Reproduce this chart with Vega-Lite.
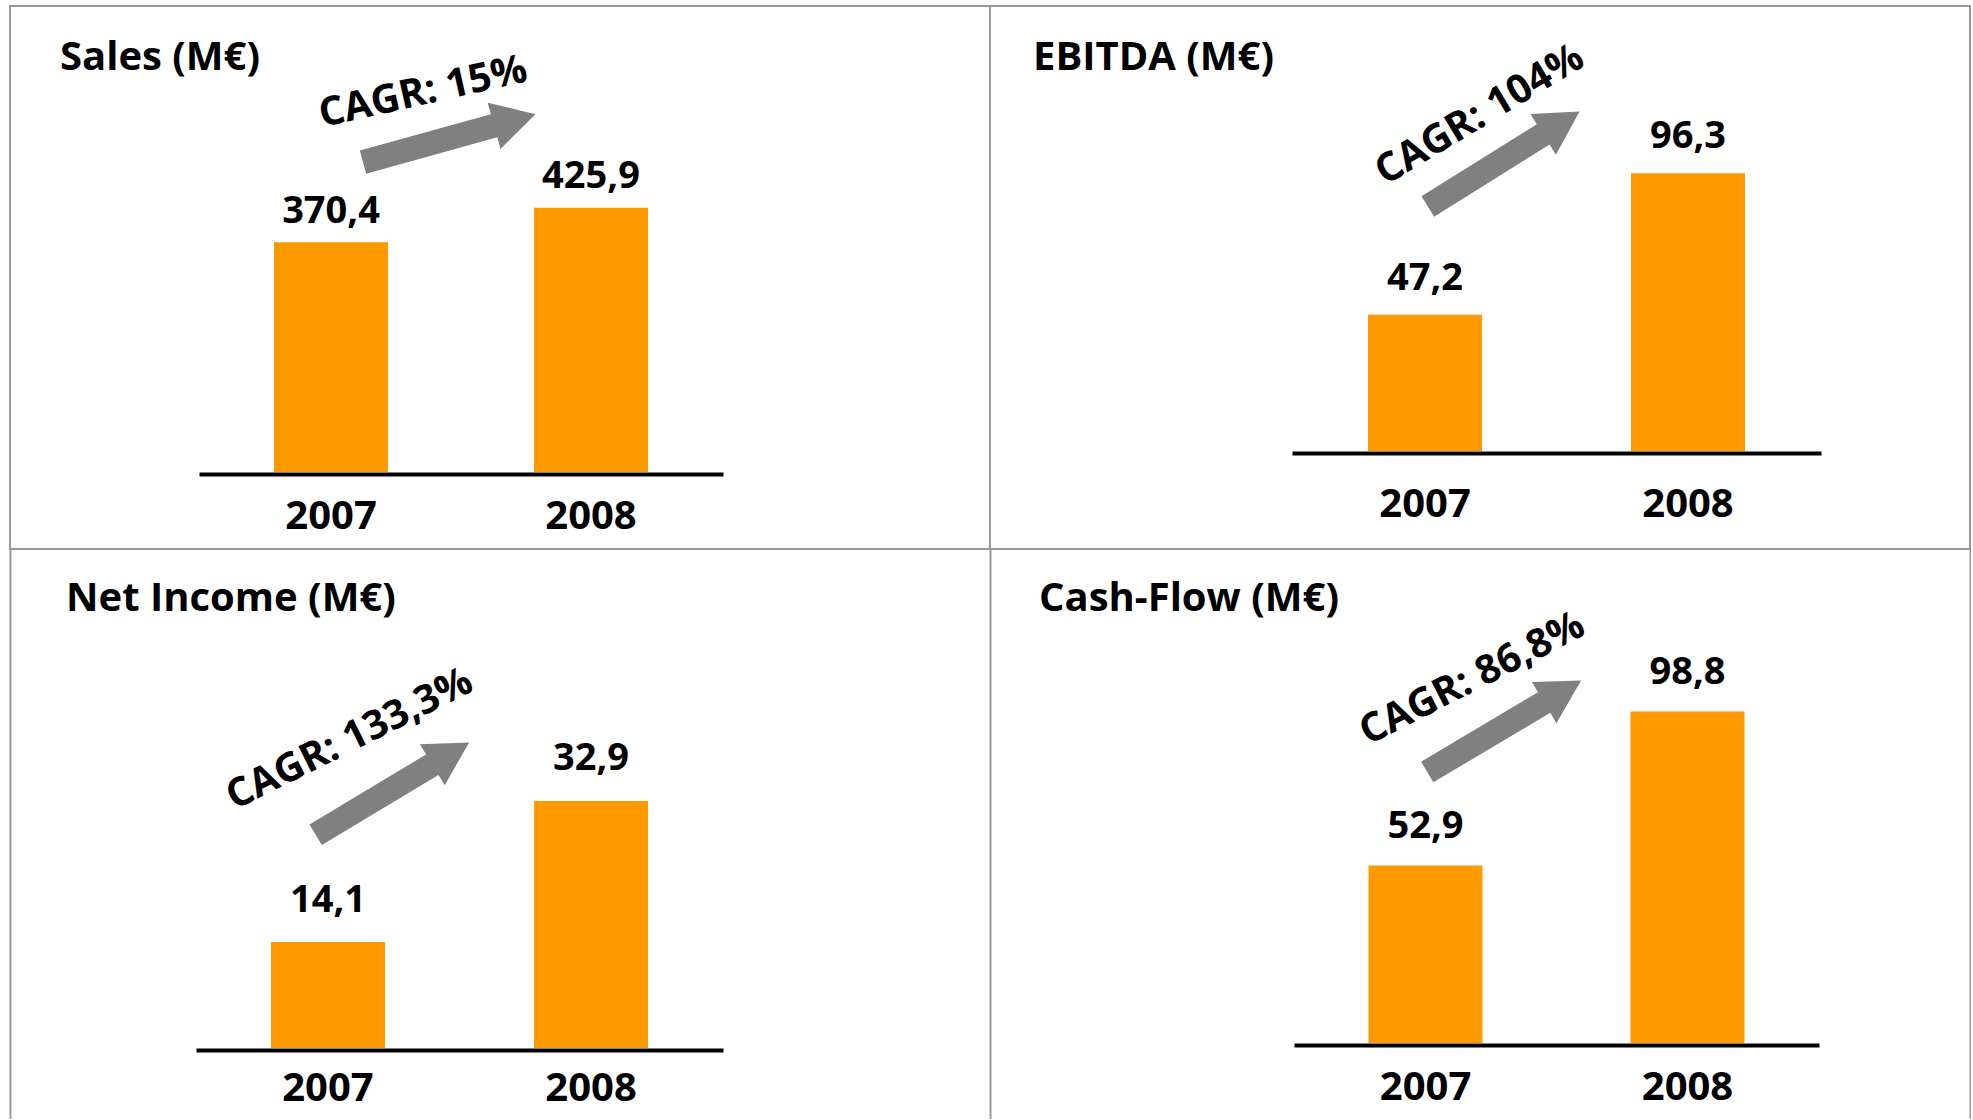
{
  "$schema": "https://vega.github.io/schema/vega-lite/v6.json",
  "background": "white",
  "padding": {"left": 9, "top": 5, "right": 0, "bottom": 0},
  "datasets": {
    "kpi": [
      {"metric": "Sales", "year": "2007", "value": 370.4},
      {"metric": "Sales", "year": "2008", "value": 425.9},
      {"metric": "EBITDA", "year": "2007", "value": 47.2},
      {"metric": "EBITDA", "year": "2008", "value": 96.3},
      {"metric": "Net Income", "year": "2007", "value": 14.1},
      {"metric": "Net Income", "year": "2008", "value": 32.9},
      {"metric": "Cash-Flow", "year": "2007", "value": 52.9},
      {"metric": "Cash-Flow", "year": "2008", "value": 98.8}
    ],
    "cagr": [
      {"metric": "Sales", "label": "CAGR: 15%"},
      {"metric": "EBITDA", "label": "CAGR: 104%"},
      {"metric": "Net Income", "label": "CAGR: 133,3%"},
      {"metric": "Cash-Flow", "label": "CAGR: 86,8%"}
    ]
  },
  "columns": 2,
  "spacing": 0,
  "bounds": "flush",
  "concat": [
    {
      "width": 980, "height": 543,
      "title": {"text": "Sales (M€)", "anchor": "start", "frame": "group", "orient": "top", "offset": -104, "dx": 50, "baseline": "alphabetic"},
      "layer": [
        {
          "data": {"name": "kpi"}, "transform": [{"filter": "datum.metric === 'Sales'"}],
          "mark": {"type": "bar", "color": "#FF9900"},
          "encoding": {
            "x": {"field": "year", "type": "ordinal", "scale": {"range": [189, 713], "paddingInner": 0.5615, "paddingOuter": 0.2885}, "axis": {"title": null, "offset": -75, "labelPadding": 54}},
            "y": {"field": "value", "type": "quantitative", "scale": {"domain": [-124.11, 751.13], "nice": false, "zero": false}, "axis": null}
          }
        },
        {
          "data": {"name": "kpi"}, "transform": [{"filter": "datum.metric === 'Sales'"}],
          "mark": {"type": "text", "dy": -19.5, "baseline": "alphabetic", "align": "center", "fontSize": 38, "fontWeight": "bold", "color": "#000000"},
          "encoding": {
            "x": {"field": "year", "type": "ordinal", "axis": {"title": null, "offset": -75, "labelPadding": 54}},
            "y": {"field": "value", "type": "quantitative", "axis": null},
            "text": {"field": "value", "type": "quantitative", "format": ".1f"}
          }
        },
        {
          "data": {"name": "cagr"}, "transform": [{"filter": "datum.metric === 'Sales'"}],
          "mark": {"type": "point", "shape": "M -1 -0.134 L 0.52 -0.134 L 0.52 -0.268 L 1 0 L 0.52 0.268 L 0.52 0.134 L -1 0.134 Z", "size": 32041, "angle": -15.5, "filled": true, "color": "#808080", "opacity": 1, "strokeWidth": 0},
          "encoding": {
            "x": {"datum": "2007", "type": "ordinal", "bandPosition": 1.537, "axis": {"title": null, "offset": -75, "labelPadding": 54}},
            "y": {"datum": 538.0, "type": "quantitative", "axis": null}
          }
        },
        {
          "data": {"name": "cagr"}, "transform": [{"filter": "datum.metric === 'Sales'"}],
          "mark": {"type": "text", "angle": -12.7, "align": "center", "baseline": "middle", "fontSize": 40, "fontWeight": "bold", "color": "#000000"},
          "encoding": {
            "x": {"datum": "2007", "type": "ordinal", "bandPosition": 1.307, "axis": {"title": null, "offset": -75, "labelPadding": 54}},
            "y": {"datum": 612, "type": "quantitative", "axis": null},
            "text": {"field": "label", "type": "nominal"}
          }
        }
      ]
    },
    {
      "width": 980, "height": 543,
      "title": {"text": "EBITDA (M€)", "anchor": "start", "frame": "group", "orient": "top", "offset": -104, "dx": 43, "baseline": "alphabetic"},
      "layer": [
        {
          "data": {"name": "kpi"}, "transform": [{"filter": "datum.metric === 'EBITDA'"}],
          "mark": {"type": "bar", "color": "#FF9900"},
          "encoding": {
            "x": {"field": "year", "type": "ordinal", "scale": {"range": [302, 831], "paddingInner": 0.5665, "paddingOuter": 0.289}, "axis": {"title": null, "offset": -96, "labelPadding": 63}},
            "y": {"field": "value", "type": "quantitative", "scale": {"domain": [-33.97, 154.25], "nice": false, "zero": false}, "axis": null}
          }
        },
        {
          "data": {"name": "kpi"}, "transform": [{"filter": "datum.metric === 'EBITDA'"}],
          "mark": {"type": "text", "dy": -25, "baseline": "alphabetic", "align": "center", "fontSize": 38, "fontWeight": "bold", "color": "#000000"},
          "encoding": {
            "x": {"field": "year", "type": "ordinal", "axis": {"title": null, "offset": -96, "labelPadding": 63}},
            "y": {"field": "value", "type": "quantitative", "axis": null},
            "text": {"field": "value", "type": "quantitative", "format": ".1f"}
          }
        },
        {
          "data": {"name": "cagr"}, "transform": [{"filter": "datum.metric === 'EBITDA'"}],
          "mark": {"type": "point", "shape": "M -1 -0.134 L 0.52 -0.134 L 0.52 -0.268 L 1 0 L 0.52 0.268 L 0.52 0.134 L -1 0.134 Z", "size": 32041, "angle": -32, "filled": true, "color": "#808080", "opacity": 1, "strokeWidth": 0},
          "encoding": {
            "x": {"datum": "2007", "type": "ordinal", "bandPosition": 1.19, "axis": {"title": null, "offset": -96, "labelPadding": 63}},
            "y": {"datum": 101.2, "type": "quantitative", "axis": null}
          }
        },
        {
          "data": {"name": "cagr"}, "transform": [{"filter": "datum.metric === 'EBITDA'"}],
          "mark": {"type": "text", "angle": -31, "align": "center", "baseline": "middle", "fontSize": 40, "fontWeight": "bold", "color": "#000000"},
          "encoding": {
            "x": {"datum": "2007", "type": "ordinal", "bandPosition": 0.98, "axis": {"title": null, "offset": -96, "labelPadding": 63}},
            "y": {"datum": 116.5, "type": "quantitative", "axis": null},
            "text": {"field": "label", "type": "nominal"}
          }
        }
      ]
    },
    {
      "width": 980, "height": 570,
      "view": {"stroke": null},
      "title": {"text": "Net Income (M€)", "anchor": "start", "frame": "group", "orient": "top", "offset": -102, "dx": 56, "baseline": "alphabetic"},
      "layer": [
        {
          "data": {"name": "kpi"}, "transform": [{"filter": "datum.metric === 'Net Income'"}],
          "mark": {"type": "bar", "color": "#FF9900"},
          "encoding": {
            "x": {"field": "year", "type": "ordinal", "scale": {"range": [186, 713], "paddingInner": 0.5665, "paddingOuter": 0.285}, "axis": {"title": null, "offset": -69, "labelPadding": 50}},
            "y": {"field": "value", "type": "quantitative", "scale": {"domain": [-9.454, 66.445], "nice": false, "zero": false}, "axis": {"title": null}}
          }
        },
        {
          "data": {"name": "kpi"}, "transform": [{"filter": "datum.metric === 'Net Income'"}],
          "mark": {"type": "text", "dy": -30.5, "baseline": "alphabetic", "align": "center", "fontSize": 38, "fontWeight": "bold", "color": "#000000"},
          "encoding": {
            "x": {"field": "year", "type": "ordinal", "axis": {"title": null, "offset": -69, "labelPadding": 50}},
            "y": {"field": "value", "type": "quantitative", "axis": {"title": null}},
            "text": {"field": "value", "type": "quantitative", "format": ".1f"}
          }
        },
        {
          "data": {"name": "cagr"}, "transform": [{"filter": "datum.metric === 'Net Income'"}],
          "mark": {"type": "point", "shape": "M -1 -0.134 L 0.52 -0.134 L 0.52 -0.268 L 1 0 L 0.52 0.268 L 0.52 0.134 L -1 0.134 Z", "size": 32041, "angle": -31, "filled": true, "color": "#808080", "opacity": 1, "strokeWidth": 0},
          "encoding": {
            "x": {"datum": "2007", "type": "ordinal", "bandPosition": 1.065, "axis": {"title": null, "offset": -69, "labelPadding": 50}},
            "y": {"datum": 34.53, "type": "quantitative", "axis": {"title": null}}
          }
        },
        {
          "data": {"name": "cagr"}, "transform": [{"filter": "datum.metric === 'Net Income'"}],
          "mark": {"type": "text", "angle": -26.5, "align": "center", "baseline": "middle", "fontSize": 40, "fontWeight": "bold", "color": "#000000"},
          "encoding": {
            "x": {"datum": "2007", "type": "ordinal", "bandPosition": 0.69, "axis": {"title": null, "offset": -69, "labelPadding": 50}},
            "y": {"datum": 41.1, "type": "quantitative", "axis": {"title": null}},
            "text": {"field": "label", "type": "nominal"}
          }
        }
      ]
    },
    {
      "width": 980, "height": 570,
      "view": {"stroke": null},
      "title": {"text": "Cash-Flow (M€)", "anchor": "start", "frame": "group", "orient": "top", "offset": -102, "dx": 49, "baseline": "alphabetic"},
      "resolve": {"axis": {"y": "independent"}},
      "layer": [
        {
          "data": {"name": "kpi"}, "transform": [{"filter": "datum.metric === 'Cash-Flow'"}],
          "mark": {"type": "bar", "color": "#FF9900"},
          "encoding": {
            "x": {"field": "year", "type": "ordinal", "scale": {"range": [304, 829], "paddingInner": 0.5649, "paddingOuter": 0.2844}, "axis": {"title": null, "offset": -74, "labelPadding": 54}},
            "y": {"field": "value", "type": "quantitative", "scale": {"domain": [-22.653, 147.243], "nice": false, "zero": false}, "axis": {"title": null, "orient": "left"}}
          }
        },
        {
          "data": {"name": "kpi"}, "transform": [{"filter": "datum.metric === 'Cash-Flow'"}],
          "mark": {"type": "text", "dy": -28, "baseline": "alphabetic", "align": "center", "fontSize": 38, "fontWeight": "bold", "color": "#000000"},
          "encoding": {
            "x": {"field": "year", "type": "ordinal", "axis": {"title": null, "offset": -74, "labelPadding": 54}},
            "y": {"field": "value", "type": "quantitative", "axis": null},
            "text": {"field": "value", "type": "quantitative", "format": ".1f"}
          }
        },
        {
          "data": {"name": "cagr"}, "transform": [{"filter": "datum.metric === 'Cash-Flow'"}],
          "mark": {"type": "point", "shape": "M -1 -0.134 L 0.52 -0.134 L 0.52 -0.268 L 1 0 L 0.52 0.268 L 0.52 0.134 L -1 0.134 Z", "size": 32041, "angle": -30.7, "filled": true, "color": "#808080", "opacity": 1, "strokeWidth": 0},
          "encoding": {
            "x": {"datum": "2007", "type": "ordinal", "bandPosition": 1.19, "axis": {"title": null, "offset": -74, "labelPadding": 54}},
            "y": {"datum": 94.4, "type": "quantitative", "axis": {"title": null, "orient": "right"}}
          }
        },
        {
          "data": {"name": "cagr"}, "transform": [{"filter": "datum.metric === 'Cash-Flow'"}],
          "mark": {"type": "text", "angle": -27, "align": "center", "baseline": "middle", "fontSize": 40, "fontWeight": "bold", "color": "#000000"},
          "encoding": {
            "x": {"datum": "2007", "type": "ordinal", "bandPosition": 0.91, "axis": {"title": null, "offset": -74, "labelPadding": 54}},
            "y": {"datum": 108.5, "type": "quantitative", "axis": null},
            "text": {"field": "label", "type": "nominal"}
          }
        }
      ]
    }
  ],
  "config": {
    "font": "Open Sans",
    "locale": {"number": {"decimal": ",", "thousands": ".", "grouping": [3], "currency": ["", " €"]}},
    "view": {"stroke": "#999999", "strokeWidth": 2},
    "title": {"font": "Open Sans", "fontSize": 40, "fontWeight": "bold", "color": "#000000"},
    "text": {"font": "Open Sans"},
    "axisX": {"domainColor": "#000000", "domainWidth": 4, "ticks": false, "tickSize": 0, "labelFont": "Open Sans", "labelFontSize": 40, "labelFontWeight": "bold", "labelColor": "#000000", "labelBaseline": "alphabetic", "labelAngle": 0, "grid": false},
    "axisY": {"domainColor": "#999999", "domainWidth": 2, "ticks": false, "tickSize": 0, "labels": false, "grid": false}
  }
}
